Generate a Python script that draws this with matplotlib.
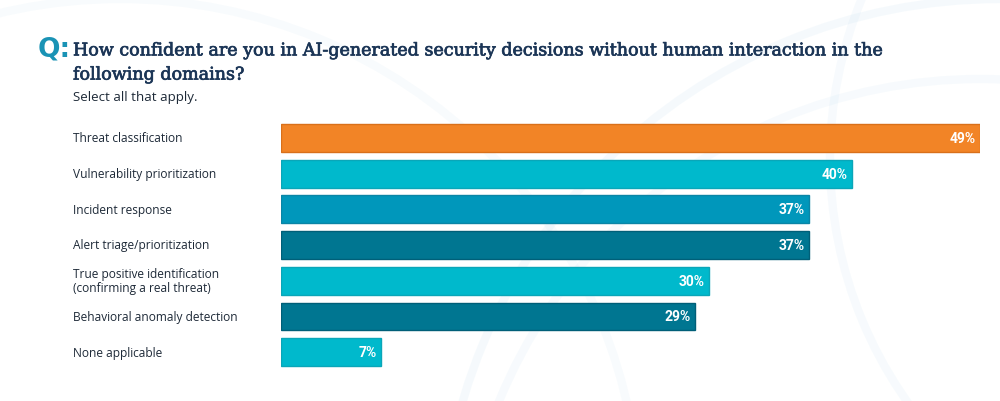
import matplotlib
matplotlib.use("Agg")
import matplotlib.pyplot as plt
import matplotlib.patheffects as pe
from matplotlib.patches import Arc

categories = [
    "Threat classification",
    "Vulnerability prioritization",
    "Incident response",
    "Alert triage/prioritization",
    "True positive identification\n(confirming a real threat)",
    "Behavioral anomaly detection",
    "None applicable",
]
values = [49, 40, 37, 37, 30, 29, 7]
bar_colors = ["#F28426", "#00B9CC", "#0097BB", "#007691", "#00B9CC", "#007691", "#00B9CC"]
edge_colors = ["#D9701A", "#0AA6B8", "#0A85A6", "#005F78", "#0AA6B8", "#005F78", "#0AA6B8"]

title = ("How confident are you in AI-generated security decisions without human interaction in the\n"
         "following domains?")
subtitle = "Select all that apply."

W, H = 1000, 402
fig = plt.figure(figsize=(W / 100, H / 100), dpi=100)
fig.patch.set_facecolor("white")

# faint decorative arcs in the background
bg = fig.add_axes([0, 0, 1, 1], zorder=0)
bg.set_xlim(0, W)
bg.set_ylim(H, 0)
bg.axis("off")
for cx, cy, r, a in [(1000, 560, 560, 0.07), (980, 600, 520, 0.06), (120, 520, 520, 0.05),
                     (1250, 160, 420, 0.06)]:
    bg.add_patch(Arc((cx, cy), 2 * r, 2 * r, color="#7FB8E0", lw=6, alpha=a))

# bar axes: left edge at x=281px, 49% reaches x=980px
top_px, bot_px = 121, 371
ax = fig.add_axes([281 / W, 1 - bot_px / H, 699 / W, (bot_px - top_px) / H], zorder=1)
ax.patch.set_alpha(0)
ypos = list(range(len(categories)))
ax.barh(ypos, values, height=0.78, color=bar_colors, edgecolor=edge_colors, linewidth=1)
ax.set_xlim(0, 49)
ax.set_ylim(len(categories) - 0.5, -0.5)
ax.axis("off")

for y, v, lab in zip(ypos, values, categories):
    ax.text(v - 0.3, y, f"{v}%", ha="right", va="center", color="white",
            fontsize=10, fontweight="bold", family="Roboto", clip_on=False)
    ax.text(-208 / 699, y, lab, transform=ax.get_yaxis_transform(),
            ha="left", va="center", color="#1E2A38", fontsize=8.6, family="Open Sans",
            linespacing=1.05)

# title block
fig.text(38 / W, 1 - 50 / H, "Q:", ha="left", va="center", color="#1A93B5",
         fontsize=19, fontweight="bold", family="DejaVu Sans")
fig.text(73 / W, 1 - 64 / H, title, ha="left", va="center", color="#1B3556",
         fontsize=12.6, family="DejaVu Serif", linespacing=1.55,
         path_effects=[pe.withStroke(linewidth=0.5, foreground="#1B3556")])
fig.text(73 / W, 1 - 98 / H, subtitle, ha="left", va="center", color="#1E2A38",
         fontsize=9.6, family="Open Sans")

fig.savefig("out.png", dpi=100)
